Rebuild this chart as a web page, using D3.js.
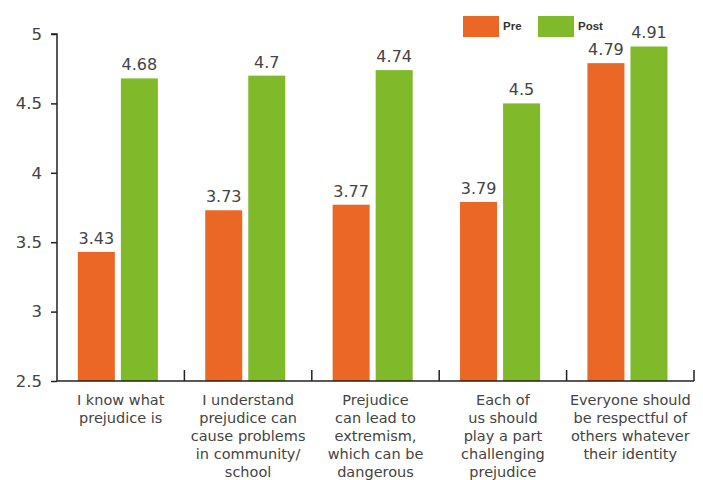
<!DOCTYPE html>
<html><head><meta charset="utf-8">
<script src="https://cdn.jsdelivr.net/npm/d3@7"></script>
<style>
body{margin:0;background:#fff;}
svg{display:block;}
</style></head>
<body>
<svg id="chart" width="703" height="480"></svg>
<script>
const categories = [
  ["I know what", "prejudice is"],
  ["I understand", "prejudice can", "cause problems", "in community/", "school"],
  ["Prejudice", "can lead to", "extremism,", "which can be", "dangerous"],
  ["Each of", "us should", "play a part", "challenging", "prejudice"],
  ["Everyone should", "be respectful of", "others whatever", "their identity"]
];
const seriesNames = ["Pre", "Post"];
const preValues = [3.43, 3.73, 3.77, 3.79, 4.79];
const postValues = [4.68, 4.7, 4.74, 4.5, 4.91];
const valueLabels = {Pre: ["3.43","3.73","3.77","3.79","4.79"], Post: ["4.68","4.7","4.74","4.5","4.91"]};
const yTicks = [2.5, 3, 3.5, 4, 4.5, 5];
const colors = {Pre: "#EB6726", Post: "#80BA2A"};

const svg = d3.select("#chart");
const mLeft = 57, mRight = 694, mTop = 34, mBottom = 381;
const idx = categories.map((d, i) => i);
const x = d3.scaleBand().domain(idx).range([mLeft, mRight]).padding(0);
const xi = d3.scaleBand().domain(seriesNames).range([0, x.bandwidth()])
  .paddingInner(0.14).paddingOuter(0.55).align(0.44);
const y = d3.scaleLinear().domain([2.5, 5]).range([mBottom, mTop]);

const data = idx.map(i => ({i, Pre: preValues[i], Post: postValues[i]}));

const g = svg.append("g");
const groups = g.selectAll("g.grp").data(data).join("g").attr("class","grp")
  .attr("transform", d => `translate(${x(d.i)},0)`);
groups.selectAll("rect").data(d => seriesNames.map(s => ({s, v: d[s], i: d.i}))).join("rect")
  .attr("x", d => xi(d.s)).attr("width", xi.bandwidth())
  .attr("y", d => y(d.v)).attr("height", d => y(2.5) - y(d.v))
  .attr("fill", d => colors[d.s]);
groups.selectAll("text.val").data(d => seriesNames.map(s => ({s, v: d[s], i: d.i}))).join("text")
  .attr("class","val")
  .attr("x", d => xi(d.s) + xi.bandwidth()/2).attr("y", d => y(d.v) - 8)
  .attr("text-anchor","middle")
  .attr("font-family","DejaVu Sans, sans-serif").attr("font-size", 16)
  .attr("fill","#444")
  .text(d => valueLabels[d.s][d.i]);

// Y axis
const yAxis = d3.axisLeft(y).tickValues(yTicks).tickFormat(d3.format("")).tickSize(6).tickPadding(9);
const ya = svg.append("g").attr("transform", `translate(${mLeft},0)`).call(yAxis);
ya.select(".domain").attr("stroke","#222").attr("stroke-width",1.5).attr("d", `M-6,${mTop}H0V${mBottom}`);
ya.selectAll(".tick line").attr("stroke","#222").attr("stroke-width",1.5);
ya.selectAll(".tick text").attr("font-family","DejaVu Sans, sans-serif").attr("font-size",16.5).attr("fill","#444");

// X axis
const xAxis = d3.axisBottom(x).tickValues([]).tickSize(0);
const xa = svg.append("g").attr("transform", `translate(0,${mBottom})`).call(xAxis);
xa.select(".domain").attr("stroke","#222").attr("stroke-width",1.5).attr("d", `M${mLeft},0H${mRight}`);
xa.selectAll("line.sep").data(idx).join("line").attr("class","sep")
  .attr("x1", i => x(i) + x.bandwidth()).attr("x2", i => x(i) + x.bandwidth())
  .attr("y1", 0).attr("y2", -11).attr("stroke","#222").attr("stroke-width",1.5);

// Category labels
const cl = svg.append("g");
cl.selectAll("text").data(idx).join("text")
  .attr("x", i => x(i) + x.bandwidth()/2)
  .attr("y", 405)
  .attr("text-anchor","middle")
  .attr("font-family","DejaVu Sans, sans-serif").attr("font-size",14.5)
  .attr("fill","#444")
  .each(function(i){
    d3.select(this).selectAll("tspan").data(categories[i]).join("tspan")
      .attr("x", x(i) + x.bandwidth()/2)
      .attr("dy", (d, k) => k === 0 ? 0 : 18)
      .text(d => d);
  });

// Legend
const legX = d3.scalePoint().domain(seriesNames).range([463, 538]);
const leg = svg.append("g");
leg.selectAll("rect").data(seriesNames).join("rect")
  .attr("x", d => legX(d)).attr("y", 16).attr("width", 36).attr("height", 21)
  .attr("fill", d => colors[d]);
leg.selectAll("text").data(seriesNames).join("text")
  .attr("x", d => legX(d) + 40).attr("y", 30)
  .attr("font-family","Liberation Sans, Arial, sans-serif").attr("font-weight","bold").attr("font-size",11.5)
  .attr("fill","#333")
  .text(d => d);
</script>
</body></html>
